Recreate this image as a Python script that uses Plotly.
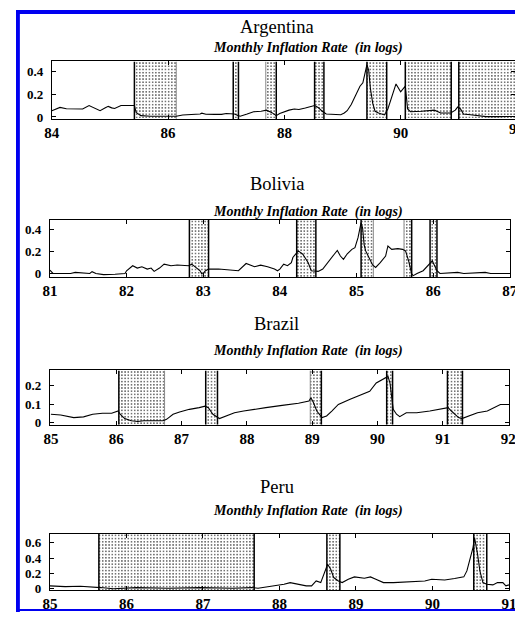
import plotly.graph_objects as go

# The page body has an 8px margin, so the figure is made 8px smaller and all
# reference pixel positions are shifted by that offset.
PAGE_W, PAGE_H = 523, 618
OFF = 8
W, H = PAGE_W - OFF, PAGE_H - OFF

# ---------------- data ----------------
countries = ["Argentina", "Bolivia", "Brazil", "Peru"]
subtitle = "Monthly Inflation Rate  (in logs)"

arg_year = [84.0, 84.08, 84.14, 84.25, 84.4, 84.53, 84.64, 84.72, 84.83, 84.92, 84.97, 85.03, 85.08,
            85.19, 85.3, 85.39, 85.42, 85.45, 85.53, 85.7, 85.9, 86.14, 86.25, 86.4, 86.55, 86.58,
            86.65, 86.8, 86.92, 87.0, 87.14, 87.2, 87.24, 87.36, 87.47, 87.6, 87.69, 87.78, 87.86,
            87.92, 87.97, 88.08, 88.17, 88.25, 88.36, 88.45, 88.52, 88.58, 88.65, 88.72, 88.85,
            88.97, 89.03, 89.08, 89.15, 89.22, 89.3, 89.35, 89.4, 89.42, 89.45, 89.48, 89.52, 89.56,
            89.62, 89.72, 89.78, 89.86, 89.92, 90.0, 90.08, 90.12, 90.17, 90.36, 90.5, 90.58,
            90.69, 90.86, 90.94, 90.98, 91.03, 91.08, 91.2, 91.36, 91.47, 91.7, 91.967]
arg_rate = [0.055, 0.075, 0.084, 0.072, 0.07, 0.07, 0.1, 0.08, 0.055, 0.08, 0.093, 0.08, 0.075,
            0.1, 0.1, 0.104, 0.1, 0.04, 0.012, 0.006, 0.006, 0.006, 0.017, 0.02, 0.026, 0.033,
            0.024, 0.023, 0.023, 0.03, 0.026, 0.012, 0.006, 0.026, 0.046, 0.05, 0.06, 0.04, 0.012,
            0.03, 0.04, 0.06, 0.07, 0.065, 0.078, 0.09, 0.1, 0.084, 0.05, 0.026, 0.02,
            0.02, 0.035, 0.055, 0.11, 0.185, 0.27, 0.3, 0.43, 0.46, 0.41, 0.25, 0.12, 0.05,
            0.035, 0.018, 0.07, 0.2, 0.29, 0.22, 0.27, 0.07, 0.046, 0.05, 0.055, 0.06,
            0.035, 0.035, 0.06, 0.087, 0.07, 0.026, 0.02, 0.012, 0.003, 0.003, 0.004]
arg_shade_start = [85.42, 87.12, 87.68, 88.52, 89.42, 90.08, 91.0]
arg_shade_end = [86.14, 87.21, 87.86, 88.68, 89.76, 90.87, 91.967]
arg_xticks = [84, 86, 88, 90, 92]
arg_yticks = [0, 0.2, 0.4]

bol_year = [81.0, 81.04, 81.27, 81.33, 81.52, 81.55, 81.6, 81.7, 81.85, 81.98, 82.0, 82.08, 82.14,
            82.2, 82.27, 82.32, 82.36, 82.43, 82.49, 82.58, 82.66, 82.75, 82.81, 82.85, 82.92,
            82.96, 82.98, 83.0, 83.03, 83.07, 83.2, 83.37, 83.46, 83.56, 83.67, 83.75, 83.84,
            83.93, 83.97, 84.0, 84.05, 84.1, 84.15, 84.17, 84.24, 84.3, 84.37, 84.41, 84.5, 84.56,
            84.62, 84.71, 84.75, 84.79, 84.83, 84.88, 84.94, 84.98, 85.02, 85.06, 85.08, 85.1,
            85.12, 85.16, 85.21, 85.25, 85.31, 85.38, 85.41, 85.46, 85.54, 85.6, 85.64, 85.68,
            85.72, 85.74, 85.79, 85.87, 85.95, 85.99, 86.01, 86.05, 86.09, 86.32, 86.4, 86.68,
            86.75, 87.0]
bol_rate = [0.034, 0.004, 0.004, 0.013, 0.004, 0.02, 0.004, -0.007, -0.004, 0.004, 0.028, 0.073,
            0.052, 0.064, 0.043, 0.052, 0.022, 0.052, 0.087, 0.073, 0.08, 0.073, 0.073, 0.087,
            0.052, 0.028, 0.0, 0.004, 0.028, 0.043, 0.043, 0.034, 0.028, 0.093, 0.064, 0.078,
            0.064, 0.043, 0.028, 0.043, 0.087, 0.073, 0.1, 0.147, 0.206, 0.176, 0.1, 0.028, 0.022,
            0.043, 0.1, 0.176, 0.21, 0.16, 0.13, 0.18, 0.22, 0.235, 0.325, 0.46, 0.41, 0.26,
            0.206, 0.147, 0.08, 0.058, 0.1, 0.16, 0.25, 0.22, 0.226, 0.22, 0.206, 0.117,
            0.0, -0.016, 0.004, 0.028, 0.087, 0.117, 0.087, 0.028, 0.004, 0.013, 0.004, 0.013,
            0.004, 0.004]
bol_shade_start = [82.82, 84.22, 85.06, 85.62, 85.96]
bol_shade_end = [83.07, 84.47, 85.22, 85.72, 86.05]
bol_xticks = [81, 82, 83, 84, 85, 86, 87]
bol_yticks = [0, 0.2, 0.4]

bra_year = [85.0, 85.15, 85.35, 85.5, 85.64, 85.79, 85.93, 86.03, 86.06, 86.13, 86.23, 86.33,
            86.42, 86.62, 86.72, 86.77, 86.87, 86.97, 87.12, 87.27, 87.36, 87.41, 87.48, 87.58,
            87.68, 87.81, 87.95, 88.1, 88.29, 88.54, 88.79, 88.95, 88.98, 89.02, 89.07, 89.15,
            89.22, 89.3, 89.4, 89.58, 89.78, 89.88, 89.98, 90.08, 90.14, 90.16, 90.19, 90.21,
            90.24, 90.29, 90.34, 90.44, 90.6, 90.8, 91.0, 91.08, 91.13, 91.24, 91.29, 91.4,
            91.53, 91.68, 91.78, 91.88, 91.97, 92.015]
bra_rate = [0.046, 0.042, 0.028, 0.032, 0.046, 0.051, 0.051, 0.063, 0.046, 0.023, 0.011, 0.007,
            0.011, 0.011, 0.011, 0.019, 0.046, 0.058, 0.072, 0.081, 0.089, 0.081, 0.046, 0.023,
            0.037, 0.054, 0.063, 0.072, 0.081, 0.093, 0.104, 0.116, 0.133, 0.107, 0.063, 0.028,
            0.037, 0.063, 0.098, 0.125, 0.151, 0.168, 0.212, 0.23, 0.242, 0.247, 0.212, 0.142,
            0.072, 0.046, 0.033, 0.054, 0.054, 0.063, 0.075, 0.081, 0.063, 0.028, 0.023, 0.037,
            0.054, 0.063, 0.081, 0.098, 0.098, 0.098]
bra_shade_start = [86.04, 87.37, 88.97, 90.14, 91.07]
bra_shade_end = [86.74, 87.55, 89.14, 90.23, 91.3]
bra_xticks = [85, 86, 87, 88, 89, 90, 91, 92]
bra_yticks = [0, 0.1, 0.2]

per_year = [85.0, 85.2, 85.4, 85.64, 85.66, 85.83, 86.13, 86.55, 86.97, 87.39, 87.64, 87.72,
            87.85, 87.97, 88.06, 88.14, 88.23, 88.35, 88.42, 88.48, 88.54, 88.58, 88.63, 88.67,
            88.71, 88.77, 88.82, 88.9, 88.98, 89.11, 89.19, 89.26, 89.36, 89.49, 89.7, 89.82,
            89.9, 89.99, 90.16, 90.29, 90.41, 90.45, 90.5, 90.53, 90.55, 90.57, 90.59, 90.62,
            90.66, 90.71, 90.79, 90.85, 90.92, 90.96, 91.0]
per_rate = [0.037, 0.028, 0.032, 0.024, 0.015, 0.0, 0.015, 0.006, 0.015, 0.006, 0.015, 0.006,
            0.024, 0.037, 0.059, 0.08, 0.059, 0.037, 0.037, 0.102, 0.08, 0.19, 0.32, 0.255,
            0.146, 0.102, 0.08, 0.124, 0.155, 0.137, 0.155, 0.124, 0.08, 0.08, 0.089, 0.102,
            0.102, 0.124, 0.115, 0.133, 0.155, 0.233, 0.407, 0.538, 0.668, 0.58, 0.45, 0.233,
            0.08, 0.059, 0.05, 0.08, 0.08, 0.037, 0.05]
per_shade_start = [85.64, 88.62, 90.54]
per_shade_end = [87.67, 88.79, 90.71]
per_xticks = [85, 86, 87, 88, 89, 90, 91]
per_yticks = [0, 0.2, 0.4, 0.6]

# ---------------- layout / style (page pixels) ----------------
panels = [
    dict(x=arg_year, y=arg_rate, s0=arg_shade_start, s1=arg_shade_end, xt=arg_xticks, yt=arg_yticks,
         xpx=(45, 523), ypx=(62, 120), xr=(84, 91.967), yr=(-0.017, 0.487), tpy=27, spy=48, lpy=130,
         edges=[("k", "g"), ("k", "k"), ("g", "k"), ("k", "k"), ("k", "k"), ("k", "k"), ("k", None)]),
    dict(x=bol_year, y=bol_rate, s0=bol_shade_start, s1=bol_shade_end, xt=bol_xticks, yt=bol_yticks,
         xpx=(43, 518), ypx=(222, 280), xr=(81.0, 87.005), yr=(-0.031, 0.484), tpy=186, spy=214, lpy=287,
         edges=[("k", "k"), ("k", "k"), ("k", "g"), ("g", "k"), ("k", "k")]),
    dict(x=bra_year, y=bra_rate, s0=bra_shade_start, s1=bra_shade_end, xt=bra_xticks, yt=bra_yticks,
         xpx=(43, 517), ypx=(374, 429), xr=(84.985, 92.015), yr=(-0.0105, 0.279), tpy=327, spy=354, lpy=442,
         edges=[("k", "g"), ("k", "k"), ("g", "k"), ("k", "k"), ("k", "k")]),
    dict(x=per_year, y=per_rate, s0=per_shade_start, s1=per_shade_end, xt=per_xticks, yt=per_yticks,
         xpx=(43, 517), ypx=(539, 596), xr=(85.0, 91.003), yr=(-0.0196, 0.719), tpy=492, spy=516, lpy=607,
         edges=[("k", "k"), ("k", "k"), ("k", "k")]),
]

SERIF = "Liberation Serif"
EDGE = {"k": "#000000", "g": "#888888"}

fig = go.Figure()
annotations = []
shapes = []


def px_x(p):
    return max(p - OFF, 0) / W


def px_y(p):
    return 1 - max(p - OFF, 0) / H


for i, p in enumerate(panels):
    sfx = "" if i == 0 else str(i + 1)
    xref, yref = "x" + sfx, "y" + sfx
    ymin, ymax = p["yr"]

    # stippled shaded periods
    fig.add_trace(go.Bar(
        x=[(a + b) / 2 for a, b in zip(p["s0"], p["s1"])],
        width=[b - a for a, b in zip(p["s0"], p["s1"])],
        base=[ymin] * len(p["s0"]),
        y=[ymax - ymin] * len(p["s0"]),
        marker=dict(color="white", line=dict(width=0),
                    pattern=dict(shape=".", fgcolor="#333333", bgcolor="white",
                                 size=3.2, solidity=0.16, fillmode="replace")),
        xaxis=xref, yaxis=yref, showlegend=False, hoverinfo="skip"))

    # edge lines of shaded periods
    for col in ("g", "k"):
        xs, ys = [], []
        for (a, b), (cl, cr) in zip(zip(p["s0"], p["s1"]), p["edges"]):
            for xv, c in ((a, cl), (b, cr)):
                if c == col:
                    xs += [xv, xv, None]
                    ys += [ymin, ymax, None]
        if xs:
            fig.add_trace(go.Scatter(x=xs, y=ys, mode="lines",
                                     line=dict(color=EDGE[col], width=1.5 if col == "k" else 1.0),
                                     xaxis=xref, yaxis=yref, showlegend=False, hoverinfo="skip"))

    # inflation series
    fig.add_trace(go.Scatter(x=p["x"], y=p["y"], mode="lines",
                             line=dict(color="black", width=1.1),
                             xaxis=xref, yaxis=yref, showlegend=False))

    xt_in = [t for t in p["xt"] if p["xr"][0] - 1e-6 <= t <= p["xr"][1] + 1e-6]
    xt_out = [t for t in p["xt"] if t not in xt_in]

    fig.layout["xaxis" + sfx] = dict(
        domain=[px_x(p["xpx"][0]), px_x(p["xpx"][1])], range=list(p["xr"]), anchor=yref,
        tickmode="array", tickvals=xt_in, ticktext=[str(t) for t in xt_in],
        ticks="inside", ticklen=4, tickwidth=1, tickcolor="black",
        showline=True, mirror="ticks", linecolor="black", linewidth=1,
        showgrid=False, zeroline=False, ticklabelstandoff=0, ticklabeloverflow="allow",
        tickfont=dict(family=SERIF, size=15, color="black", weight="bold"))
    fig.layout["yaxis" + sfx] = dict(
        domain=[px_y(p["ypx"][1]), px_y(p["ypx"][0])], range=list(p["yr"]), anchor=xref,
        tickmode="array", tickvals=p["yt"], ticktext=[f"{t:g}" for t in p["yt"]],
        ticks="inside", ticklen=4, tickwidth=1, tickcolor="black",
        showline=True, mirror="ticks", linecolor="black", linewidth=1,
        showgrid=False, zeroline=False, ticklabelstandoff=5, ticklabeloverflow="allow",
        tickfont=dict(family=SERIF, size=13, color="black", weight="bold"))

    # tick labels falling just past the right border (cut by the page edge)
    x0, x1 = p["xr"]
    for t in xt_out:
        xp = p["xpx"][0] + (t - x0) / (x1 - x0) * (p["xpx"][1] - p["xpx"][0])
        annotations.append(dict(x=px_x(xp), y=px_y(p["lpy"]), xref="paper", yref="paper",
                                text=str(t), showarrow=False, xanchor="center", yanchor="middle",
                                font=dict(family=SERIF, size=15, color="black", weight="bold")))

    annotations.append(dict(x=px_x(277), y=px_y(p["tpy"]), xref="paper", yref="paper",
                            text=countries[i], showarrow=False, xanchor="center", yanchor="middle",
                            font=dict(family=SERIF, size=18.5, color="black")))
    annotations.append(dict(x=px_x(309), y=px_y(p["spy"]), xref="paper", yref="paper",
                            text=subtitle, showarrow=False, xanchor="center", yanchor="middle",
                            font=dict(family=SERIF, size=14, color="black", weight="bold", style="italic")))

# blue frame
BLUE = "#0000f0"
shapes += [
    dict(type="rect", xref="paper", yref="paper", x0=px_x(7), x1=px_x(12), y0=px_y(618), y1=px_y(10),
         fillcolor=BLUE, line=dict(width=0), layer="above"),
    dict(type="rect", xref="paper", yref="paper", x0=px_x(7), x1=px_x(PAGE_W + 2), y0=px_y(14), y1=px_y(10),
         fillcolor=BLUE, line=dict(width=0), layer="above"),
    dict(type="rect", xref="paper", yref="paper", x0=px_x(7), x1=px_x(PAGE_W + 2), y0=px_y(617), y1=px_y(615),
         fillcolor=BLUE, line=dict(width=0), layer="above"),
]

fig.update_layout(
    width=W, height=H, margin=dict(l=0, r=0, t=0, b=0),
    paper_bgcolor="white", plot_bgcolor="white",
    barmode="overlay", bargap=0, showlegend=False,
    annotations=annotations, shapes=shapes,
)

fig.write_html("out.html")
